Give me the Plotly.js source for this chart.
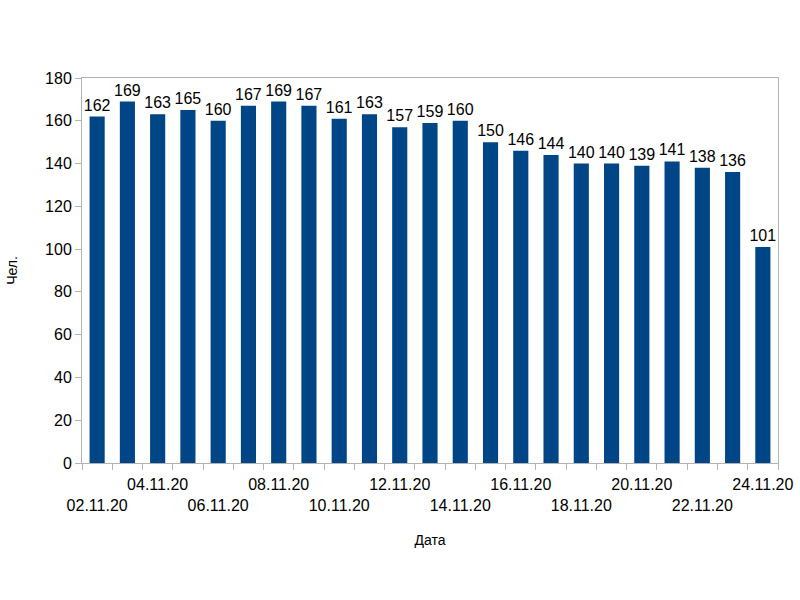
<!DOCTYPE html>
<html>
<head>
<meta charset="utf-8">
<script src="https://cdn.plot.ly/plotly-3.0.1.min.js"></script>
<style>html,body{margin:0;padding:0;background:#fff;}#chart{width:800px;height:600px;}</style>
</head>
<body>
<div id="chart"></div>
<script>
const dates = ["02.11.20","03.11.20","04.11.20","05.11.20","06.11.20","07.11.20","08.11.20","09.11.20","10.11.20","11.11.20","12.11.20","13.11.20","14.11.20","15.11.20","16.11.20","17.11.20","18.11.20","19.11.20","20.11.20","21.11.20","22.11.20","23.11.20","24.11.20"];
const values = [162,169,163,165,160,167,169,167,161,163,157,159,160,150,146,144,140,140,139,141,138,136,101];
const tickLabels = dates.map((d, i) => i % 2 === 1 ? "" : (i % 4 === 0 ? "<br>" + d : d));
const yTicks = [0,20,40,60,80,100,120,140,160,180];

const font = "Liberation Sans, Arial, sans-serif";
const trace = {
  type: "bar",
  x: dates,
  y: values,
  marker: {color: "#004586"},
  text: values.map(String),
  textposition: "outside",
  constraintext: "none",
  cliponaxis: false,
  textfont: {family: font, size: 16, color: "#000"},
  hoverinfo: "x+y"
};
const layout = {
  width: 800, height: 600,
  margin: {l: 82, r: 22, t: 78, b: 137},
  paper_bgcolor: "#fff", plot_bgcolor: "#fff",
  bargap: 0.5,
  showlegend: false,
  font: {family: font, color: "#000"},
  xaxis: {
    type: "category",
    tickmode: "array", tickvals: dates, ticktext: tickLabels,
    tickson: "boundaries",
    ticks: "outside", ticklen: 6, tickcolor: "#b3b3b3",
    ticklabelstandoff: 7,
    tickangle: 0,
    tickfont: {family: font, size: 16, color: "#000"},
    showline: true, linecolor: "#b3b3b3", linewidth: 1, mirror: true,
    showgrid: false, zeroline: false,
    title: {text: "Дата", font: {family: font, size: 14, color: "#000"}, standoff: 22}
  },
  yaxis: {
    range: [0, 180],
    tickmode: "array", tickvals: yTicks,
    ticks: "outside", ticklen: 6, tickcolor: "#b3b3b3",
    tickfont: {family: font, size: 16, color: "#000"},
    showline: true, linecolor: "#b3b3b3", linewidth: 1, mirror: true,
    showgrid: false, zeroline: false,
    title: {text: "Чел.", font: {family: font, size: 14, color: "#000"}, standoff: 24}
  }
};
Plotly.newPlot("chart", [trace], layout, {displayModeBar: false, staticPlot: true});
</script>
</body>
</html>
